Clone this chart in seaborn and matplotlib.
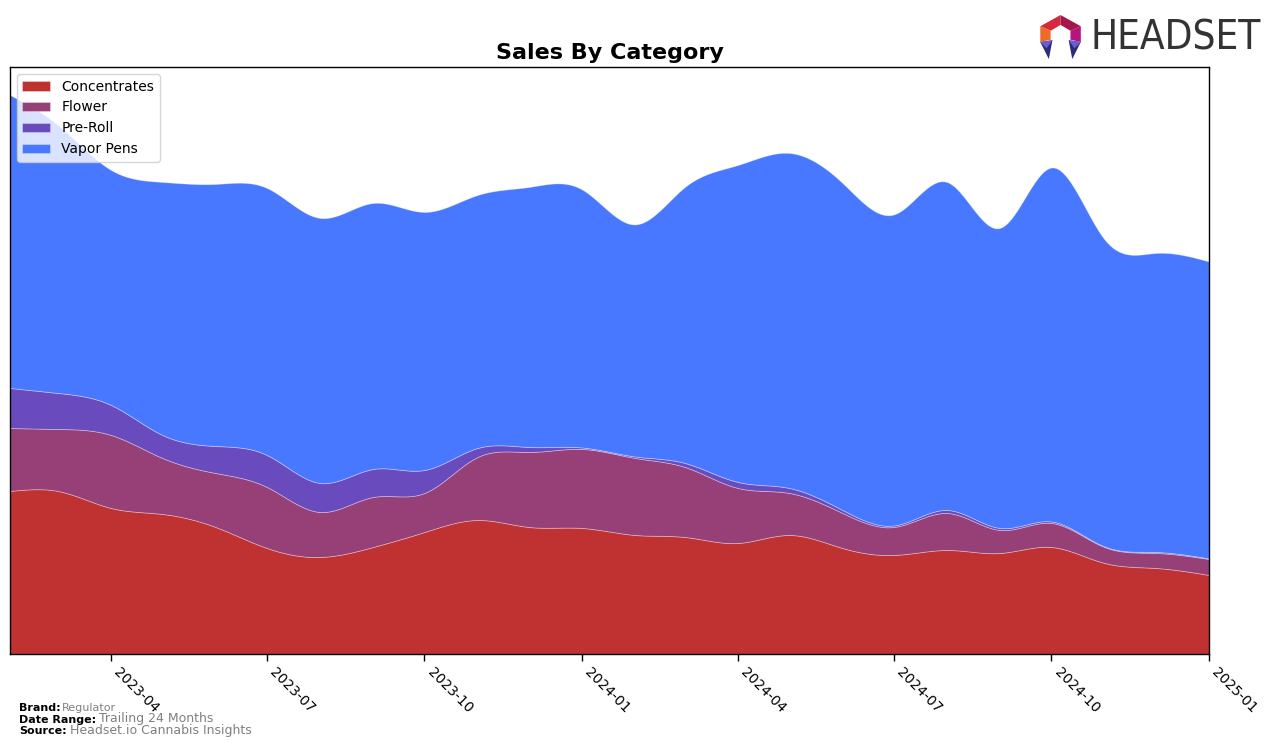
import numpy as np
import pandas as pd
import matplotlib
matplotlib.use("Agg")
import matplotlib.pyplot as plt
import matplotlib.dates as mdates
from matplotlib.patches import Polygon
import seaborn as sns

# monthly values (arbitrary units, no y axis shown)
months = pd.date_range("2023-02-01", "2025-01-01", freq="MS")
categories = ["Concentrates", "Flower", "Pre-Roll", "Vapor Pens"]
concentrates = [163, 163, 146, 140, 127, 106, 97, 107, 122, 134, 127, 126,
                119, 117, 111, 119, 106, 99, 104, 101, 107, 91, 86, 79]
flower = [63, 62, 73, 56, 54, 61, 45, 50, 39, 63, 75, 79,
          77, 70, 55, 42, 35, 28, 37, 23, 24, 16, 15, 16]
pre_roll = [40, 36, 30, 23, 27, 32, 29, 28, 23, 9, 5, 1.5,
            1.5, 4, 6, 5, 3, 1.5, 3, 2, 1.5, 0.5, 1, 0.5]
vapor_pens = [293, 268, 235, 253, 262, 267, 265, 266, 258, 253, 260, 258,
              232, 276, 317, 335, 327, 311, 328, 300, 354, 307, 299, 297]
colors = ["#c03232", "#974078", "#6a4bbd", "#4878ff"]


def smooth(x, y, n=400):
    # natural cubic spline through the monthly points, for drawing only
    x = np.asarray(x, float)
    y = np.asarray(y, float)
    k = len(x)
    h = np.diff(x)
    A = np.zeros((k, k))
    b = np.zeros(k)
    A[0, 0] = A[-1, -1] = 1
    for i in range(1, k - 1):
        A[i, i - 1] = h[i - 1]
        A[i, i] = 2 * (h[i - 1] + h[i])
        A[i, i + 1] = h[i]
        b[i] = 6 * ((y[i + 1] - y[i]) / h[i] - (y[i] - y[i - 1]) / h[i - 1])
    m = np.linalg.solve(A, b)
    xs = np.linspace(x[0], x[-1], n)
    idx = np.clip(np.searchsorted(x, xs) - 1, 0, k - 2)
    x0, x1 = x[idx], x[idx + 1]
    hh = x1 - x0
    t0, t1 = x1 - xs, xs - x0
    ys = (m[idx] * t0 ** 3 + m[idx + 1] * t1 ** 3) / (6 * hh) \
        + (y[idx] / hh - m[idx] * hh / 6) * t0 \
        + (y[idx + 1] / hh - m[idx + 1] * hh / 6) * t1
    return xs, np.clip(ys, 0, None)


sns.set_style("white")
plt.rcParams["font.family"] = ["DejaVu Sans"]
plt.rcParams["text.color"] = "black"
plt.rcParams["xtick.color"] = "black"
plt.rcParams["axes.labelcolor"] = "black"

fig = plt.figure(figsize=(12.76, 7.47), dpi=100)
ax = fig.add_axes([0.0078, 0.1245, 0.9397, 0.7858])

xnum = mdates.date2num(months)
series = [concentrates, flower, pre_roll, vapor_pens]
smoothed = []
for s in series:
    xs, ys = smooth(xnum, s)
    smoothed.append(ys)

ax.stackplot(mdates.num2date(xs), *smoothed, labels=categories, colors=colors,
             edgecolor=(1, 1, 1, 0.35), linewidth=0.6)

total = np.sum(smoothed, axis=0)
ax.set_ylim(0, total.max() * 1.05)
ax.set_xlim(months[0], months[-1])
ax.set_yticks([])
ax.xaxis.set_major_locator(mdates.MonthLocator(bymonth=[1, 4, 7, 10]))
ax.xaxis.set_major_formatter(mdates.DateFormatter("%Y-%m"))
plt.setp(ax.get_xticklabels(), rotation=-45, ha="left", fontsize=10, color="black")
ax.tick_params(axis="x", length=5, width=1, direction="out", bottom=True, pad=3)
for sp in ax.spines.values():
    sp.set_color("black")
    sp.set_linewidth(1)

ax.set_title("Sales By Category", fontsize=16, fontweight="bold", pad=6, color="black")
ax.legend(loc="upper left", fontsize=10, frameon=True, framealpha=0.8)

# footer
fig.text(0.0149, 0.0520, "Brand:", fontsize=8, fontweight="bold", va="center")
fig.text(0.0486, 0.0520, "Regulator", fontsize=8, color="grey", va="center")
fig.text(0.0149, 0.0365, "Date Range:", fontsize=8, fontweight="bold", va="center")
fig.text(0.0776, 0.0380, "Trailing 24 Months", fontsize=9, color="grey", va="center")
fig.text(0.0149, 0.0220, "Source:", fontsize=8, fontweight="bold", va="center")
fig.text(0.0548, 0.0220, "Headset.io Cannabis Insights", fontsize=9, color="grey", va="center")

# logo
logo = fig.add_axes([0.8135, 0.9197, 0.0353, 0.0602])
logo.set_xlim(0, 10)
logo.set_ylim(0, 10)
logo.axis("off")
pieces = [
    ([(0.5, 7.5), (5, 10), (5, 7.8), (2.8, 6.5)], "#d42a3c"),
    ([(5, 10), (9.5, 7.5), (7.2, 6.5), (5, 7.8)], "#a3174a"),
    ([(0.5, 7.5), (2.8, 6.5), (2.8, 4.5), (0.5, 4)], "#ee6a2a"),
    ([(9.5, 7.5), (9.5, 4), (7.2, 4.5), (7.2, 6.5)], "#b5157c"),
    ([(0.5, 4), (3.2, 4.4), (2.4, 0.2)], "#2b2d7a"),
    ([(9.5, 4), (6.8, 4.4), (7.6, 0.2)], "#2b2d7a"),
    ([(0.5, 4), (3.2, 4.4), (1.9, 2.6)], "#6a5fd0"),
    ([(9.5, 4), (6.8, 4.4), (8.1, 2.6)], "#6a5fd0"),
]
for pts, c in pieces:
    logo.add_patch(Polygon(pts, closed=True, color=c, lw=0))
fig.text(0.855, 0.948, "HEADSET", fontsize=29, color="#333333", va="center",
         fontfamily="DejaVu Sans", fontstretch="condensed")

fig.savefig("out.png", dpi=100)
